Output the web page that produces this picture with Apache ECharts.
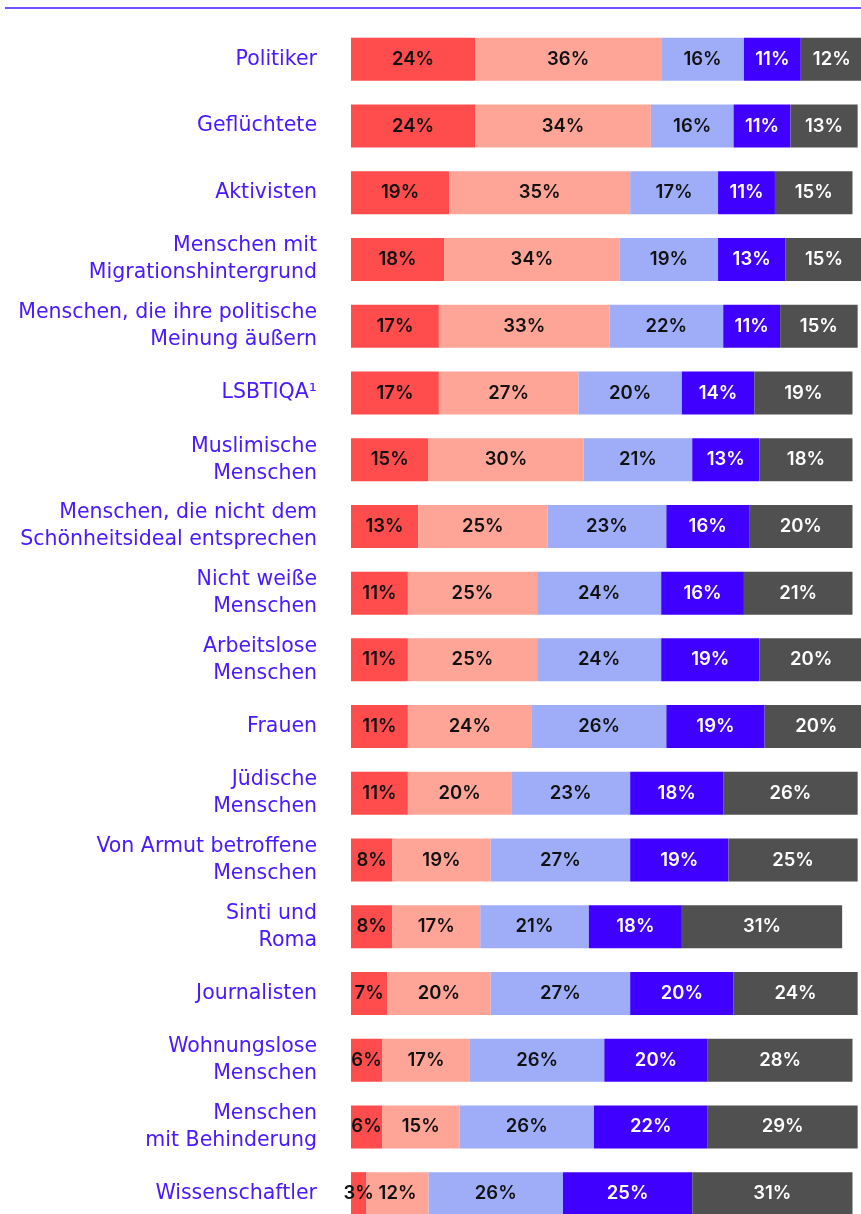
<!DOCTYPE html>
<html>
<head>
<meta charset="utf-8">
<script src="https://cdn.jsdelivr.net/npm/echarts@6/dist/echarts.min.js"></script>
<style>
  html, body { margin: 0; padding: 0; background: #fff; }
  #chart { width: 861px; height: 1214px; }
</style>
</head>
<body>
<div id="chart"></div>
<script>
const categories = [
  'Politiker',
  'Geflüchtete',
  'Aktivisten',
  'Menschen mit\nMigrationshintergrund',
  'Menschen, die ihre politische\nMeinung äußern',
  'LSBTIQA¹',
  'Muslimische\nMenschen',
  'Menschen, die nicht dem\nSchönheitsideal entsprechen',
  'Nicht weiße\nMenschen',
  'Arbeitslose\nMenschen',
  'Frauen',
  'Jüdische\nMenschen',
  'Von Armut betroffene\nMenschen',
  'Sinti und\nRoma',
  'Journalisten',
  'Wohnungslose\nMenschen',
  'Menschen\nmit Behinderung',
  'Wissenschaftler'
];

// five answer groups, left to right
const s1 = [24, 24, 19, 18, 17, 17, 15, 13, 11, 11, 11, 11, 8, 8, 7, 6, 6, 3];
const s2 = [36, 34, 35, 34, 33, 27, 30, 25, 25, 25, 24, 20, 19, 17, 20, 17, 15, 12];
const s3 = [16, 16, 17, 19, 22, 20, 21, 23, 24, 24, 26, 23, 27, 21, 27, 26, 26, 26];
const s4 = [11, 11, 11, 13, 11, 14, 13, 16, 16, 19, 19, 18, 19, 18, 20, 20, 22, 25];
const s5 = [12, 13, 15, 15, 15, 19, 18, 20, 21, 20, 20, 26, 25, 31, 24, 28, 29, 31];

const colors = ['#ff4c4c', '#ffa597', '#9fadf9', '#4000ff', '#505050'];
const textColors = ['#111', '#111', '#111', '#fff', '#fff'];

var chart = echarts.init(document.getElementById('chart'));

const makeSeries = (data, i) => ({
  type: 'bar',
  stack: 'all',
  data: data,
  barWidth: 43,
  itemStyle: { color: colors[i] },
  label: {
    show: true,
    position: 'inside',
    formatter: '{c}%',
    color: textColors[i],
    fontFamily: 'Inter',
    fontWeight: 600,
    fontSize: 18.5
  },
  emphasis: { disabled: true }
});

const option = {
  animation: false,
  grid: { left: 351, top: 26, width: 517, height: 1201, outerBoundsMode: 'none' },
  xAxis: {
    type: 'value',
    min: 0,
    max: 100,
    show: false
  },
  yAxis: {
    type: 'category',
    data: categories,
    inverse: true,
    axisLine: { show: false },
    axisTick: { show: false },
    axisLabel: {
      margin: 34,
      color: '#4a1aff',
      fontFamily: 'DejaVu Sans',
      fontSize: 20.5,
      lineHeight: 27,
      align: 'right'
    }
  },
  graphic: [{
    type: 'line',
    shape: { x1: 5, y1: 8, x2: 861, y2: 8 },
    style: { stroke: '#7350ff', lineWidth: 2 }
  }],
  series: [s1, s2, s3, s4, s5].map(makeSeries)
};

chart.setOption(option);
</script>
</body>
</html>
